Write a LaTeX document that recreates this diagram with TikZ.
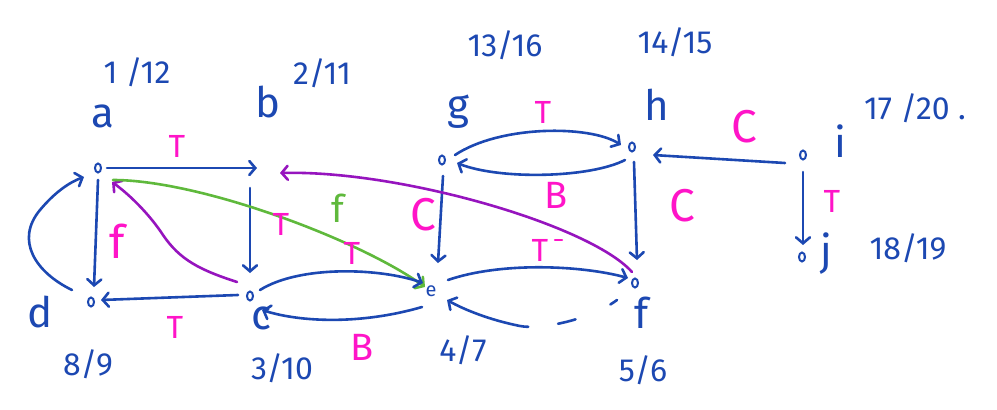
\documentclass[tikz,border=0pt]{standalone}
\usepackage{fontspec}
\setmainfont{Fira Sans}
\usetikzlibrary{arrows.meta,shapes.geometric}
\definecolor{ink}{RGB}{28,72,178}
\definecolor{pen}{RGB}{255,20,200}
\definecolor{plum}{RGB}{150,20,190}
\definecolor{leaf}{RGB}{95,185,60}
\tikzset{
  link/.style={draw=#1, line width=2.6pt, line cap=round, line join=round,
    -{Straight Barb[length=6pt,width=14pt,line cap=round]}},
  link/.default=ink,
  vtx/.style={ellipse, draw=ink, line width=2pt, minimum width=6pt, minimum height=9pt, inner sep=0pt},
  spot/.style={inner sep=0pt, minimum size=0pt},
  vlabel/.style={text=ink, font=\fontsize{42}{42}\selectfont},
  stamp/.style={text=ink, font=\fontsize{32}{32}\selectfont},
  etype/.style={text=pen, font=\fontsize{32}{32}\selectfont},
  ebig/.style={text=pen, font=\fontsize{46}{46}\selectfont},
}
\begin{document}
\begin{tikzpicture}[x=1pt,y=-1pt]
\useasboundingbox (0,0) rectangle (997,410);
\fill[white] (0,0) rectangle (997,410);

% vertices
\node[vtx] (a) at (98,168) {};
\node[spot] (b) at (252,172) {};
\node[vtx] (c) at (250,296) {};
\node[vtx] (d) at (91,302) {};
\node[text=ink, font=\fontsize{20}{20}\selectfont, inner sep=0pt] (e) at (431,291) {e};
\node[vtx] (f) at (635,283) {};
\node[vtx] (g) at (442,160) {};
\node[vtx] (h) at (632,147) {};
\node[vtx] (i) at (803,155) {};
\node[vtx] (j) at (802,257) {};

% vertex names
\node[vlabel] (na) at (103,116) {a};
\node[vlabel] (nb) at (268,102) {b};
\node[vlabel] (nc) at (262,318) {c};
\node[vlabel] (nd) at (40,312) {d};
\node[vlabel] (nf) at (642,313) {f};
\node[vlabel] (ng) at (458,112) {g};
\node[vlabel] (nh) at (657,105) {h};
\node[vlabel] (ni) at (840,141) {i};
\node[vlabel] (nj) at (826,254) {j};

% discovery / finish times
\node[stamp] (ta) at (137,72) {1 /12};
\node[stamp] (tb) at (322,73) {2/11};
\node[stamp] (tc) at (282,368) {3/10};
\node[stamp] (td) at (88,364) {8/9};
\node[stamp] (te) at (463,350) {4/7};
\node[stamp] (tf) at (643,370) {5/6};
\node[stamp] (tg) at (505,45) {13/16};
\node[stamp] (th) at (675,42) {14/15};
\node[stamp] (ti) at (915,108) {17 /20 .};
\node[stamp] (tj) at (908,248) {18/19};

% tree, back and cross edges
\draw[link] ([shift={(9,0)}]a.center) -- ([shift={(5,-4)}]b.center);
\draw[link] ([shift={(-2,16)}]b.center) -- ([shift={(0,-23)}]c.center);
\draw[link] ([shift={(-12,-1)}]c.center) -- ([shift={(10,-2)}]d.center);
\draw[link] ([shift={(0,12)}]a.center) -- ([shift={(3,-15)}]d.center);
\draw[link] ([shift={(-19,-12)}]d.center) .. controls (35,272) and (15,240) .. (40,210)
  .. controls (55,192) and (70,182) .. ([shift={(-14,9)}]a.center);
\draw[link=plum] ([shift={(-13,-14)}]c.center) .. controls (200,270) and (180,260) .. (163,235)
  .. controls (150,215) and (130,195) .. ([shift={(14,14)}]a.center);
\draw[link=leaf] ([shift={(15,12)}]a.center) .. controls (200,180) and (360,240) .. ([shift={(-6,-4)}]e.center);
\draw[link] ([shift={(10,-6)}]c.center) .. controls (300,265) and (380,268) .. ([shift={(-8,-8)}]e.center);
\draw[link] ([shift={(-9,16)}]e.center) .. controls (360,325) and (300,322) .. ([shift={(12,14)}]c.center);
\draw[link] ([shift={(17,-11)}]e.center) .. controls (500,262) and (580,265) .. ([shift={(-7,-5)}]f.center);
\draw[link, dash pattern=on 8pt off 38pt on 18pt off 30pt on 300pt off 0pt]
  ([shift={(-18,17)}]f.center) .. controls (590,320) and (540,330) .. (520,326)
  .. controls (490,320) and (465,310) .. ([shift={(16,9)}]e.center);
\draw[link] ([shift={(13,-5)}]g.center) .. controls (500,125) and (590,125) .. ([shift={(-11,-2)}]h.center);
\draw[link] ([shift={(-7,13)}]h.center) .. controls (590,178) and (500,180) .. ([shift={(15,3)}]g.center);
\draw[link] ([shift={(1,16)}]g.center) -- ([shift={(7,-28)}]e.center);
\draw[link] ([shift={(2,15)}]h.center) -- ([shift={(2,-23)}]f.center);
\draw[link] ([shift={(-18,8)}]i.center) -- ([shift={(21,8)}]h.center);
\draw[link] ([shift={(0,17)}]i.center) -- ([shift={(1,-12)}]j.center);
\draw[link=plum] ([shift={(-3,-11)}]f.center) .. controls (590,225) and (400,170) .. ([shift={(28,1)}]b.center);

% edge classes
\node[etype] (lab) at (177,146) {T};
\node[etype] (lbc) at (281,224) {T};
\node[etype] (lcd) at (175,327) {T};
\node[ebig] (lad) at (117,241) {f};
\node[text=leaf, font=\fontsize{38}{38}\selectfont] (lae) at (338,208) {f};
\node[etype] (lce) at (352,253) {T};
\node[etype, font=\fontsize{38}{38}\selectfont] (lec) at (362,347) {B};
\node[etype] (lef) at (540,250) {T};
\draw[pen, line width=2.4pt, line cap=round] ([shift={(15,-10)}]lef.center) -- ([shift={(22,-10)}]lef.center);
\node[ebig] (lge) at (423,215) {C};
\node[etype] (lgh) at (543,112) {T};
\node[etype, font=\fontsize{38}{38}\selectfont] (lhg) at (556,195) {B};
\node[ebig] (lhf) at (682,206) {C};
\node[ebig] (lih) at (744,127) {C};
\node[etype] (lij) at (832,201) {T};
\end{tikzpicture}
\end{document}
